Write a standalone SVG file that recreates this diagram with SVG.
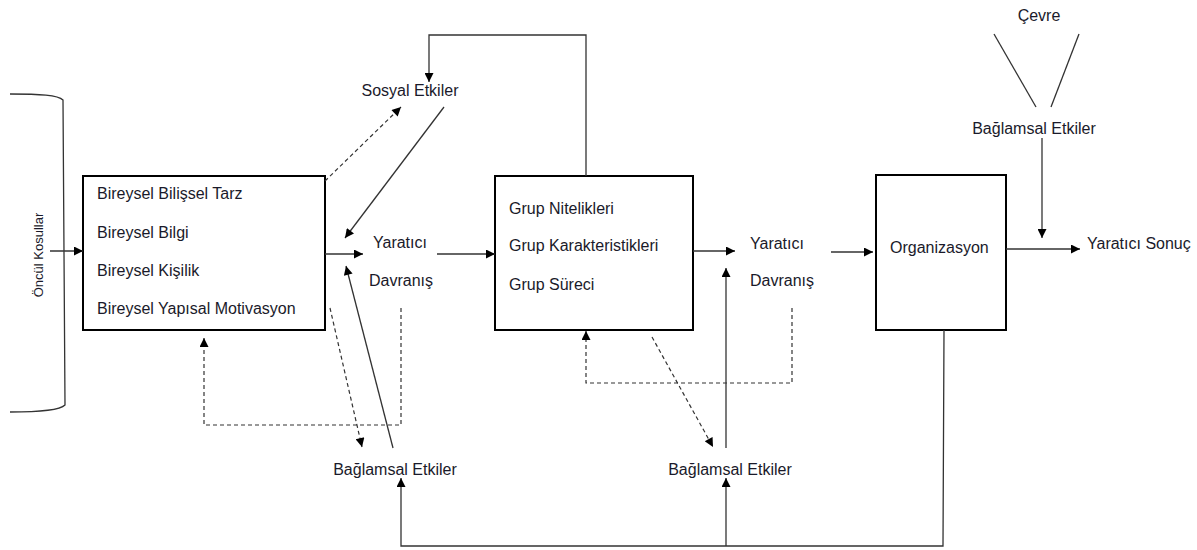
<svg xmlns="http://www.w3.org/2000/svg" width="1197" height="550" viewBox="0 0 1197 550">
<style>
text{font-family:"Liberation Sans",Arial,sans-serif;font-size:16px;fill:#1a1a2a}
.box{fill:#fff;stroke:#000;stroke-width:2}
.c{fill:none;stroke:#333;stroke-width:1.3}
.d{fill:none;stroke:#333;stroke-width:1.2;stroke-dasharray:4 3}
.m{text-anchor:middle}
</style>
<defs>
<marker id="a" viewBox="0 0 10 10" refX="10" refY="5" markerWidth="11" markerHeight="9" markerUnits="userSpaceOnUse" orient="auto">
<path d="M0,0 L10,5 L0,10 z" fill="#000"/>
</marker>
</defs>
<rect width="1197" height="550" fill="#fff"/>
<g id="oncul">
<path class="c" d="M10,94 C40,94 58,95 63,100 L65,405 C60,410 40,412 10,412"/>
<text transform="translate(43,255) rotate(-90)" class="m" style="font-size:13px">Öncül Kosullar</text>
</g>
<g id="bireysel">
<rect class="box" x="83" y="176" width="242" height="154"/>
<text x="97" y="199">Bireysel Bilişsel Tarz</text>
<text x="97" y="238">Bireysel Bilgi</text>
<text x="97" y="276">Bireysel Kişilik</text>
<text x="97" y="314">Bireysel Yapısal Motivasyon</text>
</g>
<g id="sosyal"><text x="410" y="96" class="m">Sosyal Etkiler</text></g>
<g id="yd1"><text x="373" y="248">Yaratıcı</text><text x="369" y="286">Davranış</text></g>
<g id="grup">
<rect class="box" x="495" y="176" width="198" height="154"/>
<text x="509" y="214">Grup Nitelikleri</text>
<text x="509" y="251">Grup Karakteristikleri</text>
<text x="509" y="290">Grup Süreci</text>
</g>
<g id="yd2"><text x="750" y="249">Yaratıcı</text><text x="750" y="286">Davranış</text></g>
<g id="org">
<rect class="box" x="876" y="175" width="130" height="155"/>
<text x="890" y="253">Organizasyon</text>
</g>
<g id="sonuc"><text x="1087" y="249">Yaratıcı Sonuç</text></g>
<g id="cevre"><text x="1039" y="21" class="m">Çevre</text></g>
<g id="be3"><text x="1034" y="134" class="m">Bağlamsal Etkiler</text></g>
<g id="be1"><text x="395" y="475" class="m">Bağlamsal Etkiler</text></g>
<g id="be2"><text x="730" y="475" class="m">Bağlamsal Etkiler</text></g>
<g id="connectors">
<path class="c" d="M50,251 L83,251" marker-end="url(#a)"/>
<path class="c" d="M586,176 L586,35 L429,35 L429,82" marker-end="url(#a)"/>
<path class="d" d="M325,181 L401,107" marker-end="url(#a)"/>
<path class="c" d="M444,107 L345,238" marker-end="url(#a)"/>
<path class="c" d="M325,254 L363,254" marker-end="url(#a)"/>
<path class="c" d="M437,254 L495,254" marker-end="url(#a)"/>
<path class="c" d="M393,448 L346,266" marker-end="url(#a)"/>
<path class="d" d="M330,308 L362,447" marker-end="url(#a)"/>
<path class="d" d="M401,308 L401,425 L204,425 L204,338" marker-end="url(#a)"/>
<path class="c" d="M944,330 L943,546 L401,546 L401,478" marker-end="url(#a)"/>
<path class="c" d="M726,546 L726,478" marker-end="url(#a)"/>
<path class="c" d="M726,448 L726,268" marker-end="url(#a)"/>
<path class="d" d="M652,337 L713,447" marker-end="url(#a)"/>
<path class="d" d="M792,308 L792,383 L586,383 L586,331" marker-end="url(#a)"/>
<path class="c" d="M693,251 L735,251" marker-end="url(#a)"/>
<path class="c" d="M831,252 L873,252" marker-end="url(#a)"/>
<path class="c" d="M1006,249 L1080,249" marker-end="url(#a)"/>
<path class="c" d="M1042,138 L1042,238" marker-end="url(#a)"/>
<path class="c" d="M994,34 L1036,107"/>
<path class="c" d="M1079,34 L1051,107"/>
</g>
</svg>
